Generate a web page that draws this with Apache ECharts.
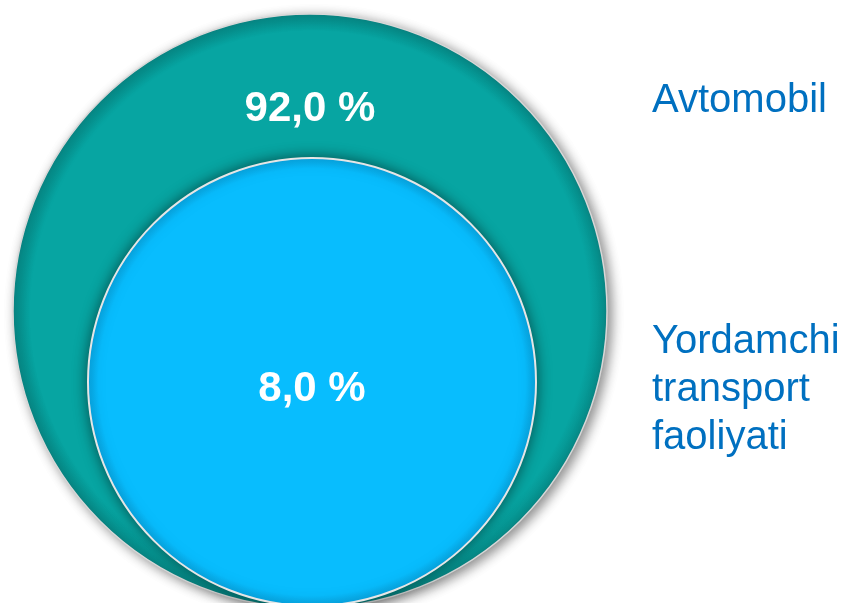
<!DOCTYPE html>
<html>
<head>
<meta charset="utf-8">
<script src="https://cdn.jsdelivr.net/npm/echarts@6/dist/echarts.min.js"></script>
<style>
html,body{margin:0;padding:0;background:#fff;}
#chart{width:843px;height:603px;}
</style>
</head>
<body>
<div id="chart"></div>
<script>
// Data
var categories = ['Avtomobil', 'Yordamchi transport faoliyati'];
var shares = [92.0, 8.0];

var chart = echarts.init(document.getElementById('chart'), null, {renderer: 'canvas'});

function fmt(v) { return v.toFixed(1).replace('.', ',') + ' %'; }

var font = "'Liberation Sans', Arial, Helvetica, sans-serif";

var option = {
  animation: false,
  backgroundColor: '#ffffff',
  legend: [
    {
      data: [categories[0]],
      left: 647, top: 77, padding: 0,
      orient: 'vertical',
      icon: 'none', itemWidth: 0, itemHeight: 0,
      selectedMode: false,
      formatter: function (n) { return n.split(' ').join('\n'); },
      textStyle: {color: '#0070C0', fontSize: 40, fontFamily: font, lineHeight: 48}
    },
    {
      data: [categories[1]],
      left: 647, top: 318, padding: 0,
      orient: 'vertical',
      icon: 'none', itemWidth: 0, itemHeight: 0,
      selectedMode: false,
      formatter: function (n) { return n.split(' ').join('\n'); },
      textStyle: {color: '#0070C0', fontSize: 40, fontFamily: font, lineHeight: 48}
    }
  ],
  series: [
    {
      type: 'pie',
      name: categories[0],
      center: [310, 311],
      radius: [0, 297],
      startAngle: 90,
      silent: true,
      emphasis: {disabled: true},
      data: [{name: categories[0], value: shares[0]}],
      itemStyle: {
        color: {
          type: 'radial', x: 0.5, y: 0.5, r: 0.5,
          colorStops: [
            {offset: 0, color: '#07A5A2'},
            {offset: 0.94, color: '#07A5A2'},
            {offset: 0.985, color: '#06918E'},
            {offset: 1, color: '#0B8583'}
          ]
        },
        borderColor: '#d8d8d8',
        borderWidth: 1.5,
        shadowColor: 'rgba(0,0,0,0.45)',
        shadowBlur: 12,
        shadowOffsetX: 4,
        shadowOffsetY: 3
      },
      label: {
        show: true,
        position: 'center',
        formatter: function (p) { return fmt(p.value); },
        color: '#ffffff',
        fontSize: 42,
        fontWeight: 'bold',
        fontFamily: font
      },
      labelLayout: {dy: -202},
      labelLine: {show: false}
    },
    {
      type: 'pie',
      name: categories[1],
      center: [312, 382],
      radius: [0, 224],
      startAngle: 90,
      silent: true,
      emphasis: {disabled: true},
      data: [{name: categories[1], value: shares[1]}],
      itemStyle: {
        color: {
          type: 'radial', x: 0.5, y: 0.5, r: 0.5,
          colorStops: [
            {offset: 0, color: '#08BDFE'},
            {offset: 0.95, color: '#08BDFE'},
            {offset: 1, color: '#07A8E6'}
          ]
        },
        borderColor: '#e6e6e6',
        borderWidth: 2,
        shadowColor: 'rgba(0,0,0,0.5)',
        shadowBlur: 14,
        shadowOffsetX: 0,
        shadowOffsetY: 0
      },
      label: {
        show: true,
        position: 'center',
        formatter: function (p) { return fmt(p.value); },
        color: '#ffffff',
        fontSize: 42,
        fontWeight: 'bold',
        fontFamily: font
      },
      labelLayout: {dy: 7},
      labelLine: {show: false}
    }
  ]
};
chart.setOption(option);
</script>
</body>
</html>
